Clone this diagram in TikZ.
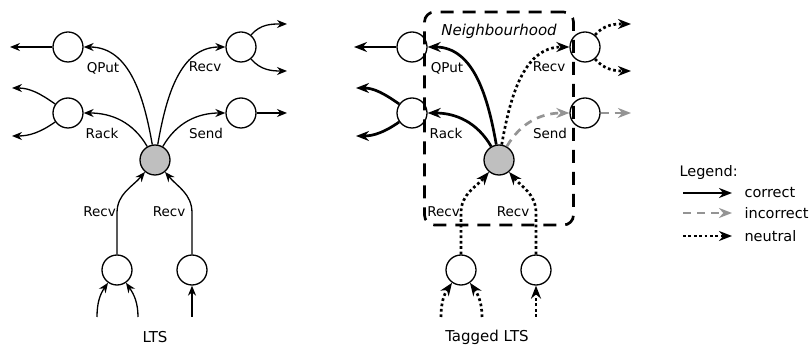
\documentclass[tikz,border=0pt]{standalone}
\usepackage{fontspec}
\setmainfont{DejaVu Sans}
\setsansfont{DejaVu Sans}
\usepackage{tikz}
\usetikzlibrary{automata, positioning, arrows.meta}
\usepackage{xcolor}

\begin{document}
\begin{tikzpicture}[x=1pt, y=1pt, on grid,
    font=\sffamily\fontsize{13.5}{16}\selectfont,
    every state/.style={draw, line width=1.3pt, minimum size=30pt, inner sep=0pt},
    >={Stealth[length=10pt, width=8pt]},
    plain/.style={line width=1.3pt},
    correct/.style={line width=2.7pt, >={Stealth[length=13pt, width=10pt]}},
    incorrect/.style={correct, draw=black!42, dash pattern=on 8pt off 6pt},
    neutral/.style={correct, dash pattern=on 2.7pt off 2.7pt},
    nbhd/.style={draw, line width=2.7pt, dash pattern=on 13pt off 9pt, rounded corners=10pt},
    big/.style={font=\sffamily\fontsize{15}{18}\selectfont}]
    \useasboundingbox (0,0) rectangle (811,-352);
    % Add the states (LTS)
        \node[state,
              fill=black!25
              ] (c0) at (155,-160) {};
        \node[state,
              above left=113pt and 87pt of c0
              ] (q0) {};
        \node[state,
              above left=47pt and 87pt of c0
              ] (r0) {};
        \node[state,
              above right=113pt and 86pt of c0
              ] (v0) {};
        \node[state,
              above right=47pt and 86pt of c0
              ] (s0) {};
        \node[state,
              below left=110pt and 38pt of c0
              ] (b0) {};
        \node[state,
              below right=110pt and 37pt of c0
              ] (b1) {};
    % Add the states (Tagged LTS)
        \node[state,
              right=344pt of c0,
              fill=black!25
              ] (c1) {};
        \node[state,
              above left=113pt and 87pt of c1
              ] (q1) {};
        \node[state,
              above left=47pt and 87pt of c1
              ] (r1) {};
        \node[state,
              above right=113pt and 86pt of c1
              ] (v1) {};
        \node[state,
              above right=47pt and 86pt of c1
              ] (s1) {};
        \node[state,
              below left=110pt and 38pt of c1
              ] (b2) {};
        \node[state,
              below right=110pt and 37pt of c1
              ] (b3) {};
    % loose ends
        \coordinate[left=58pt of q0] (q0x);
        \coordinate[above left=25pt and 56pt of r0] (r0x);
        \coordinate[below left=23pt and 56pt of r0] (r0y);
        \coordinate[above right=23pt and 46pt of v0] (v0x);
        \coordinate[below right=24pt and 46pt of v0] (v0y);
        \coordinate[right=46pt of s0] (s0x);
        \coordinate[below left=47pt and 20pt of b0] (b0x);
        \coordinate[below right=47pt and 21pt of b0] (b0y);
        \coordinate[below=47pt of b1] (b1x);
        \coordinate[above=57pt of b0] (b0t);
        \coordinate[above=57pt of b1] (b1t);
        \coordinate[left=58pt of q1] (q1x);
        \coordinate[above left=25pt and 56pt of r1] (r1x);
        \coordinate[below left=23pt and 56pt of r1] (r1y);
        \coordinate[above right=23pt and 46pt of v1] (v1x);
        \coordinate[below right=24pt and 46pt of v1] (v1y);
        \coordinate[right=46pt of s1] (s1x);
        \coordinate[below left=47pt and 20pt of b2] (b2x);
        \coordinate[below right=47pt and 21pt of b2] (b2y);
        \coordinate[below=47pt of b3] (b3x);
        \coordinate[above=57pt of b2] (b2t);
        \coordinate[above=57pt of b3] (b3t);
    % neighbourhood box
        \node[nbhd,
              above=41.5pt of c1,
              minimum width=149pt,
              minimum height=213pt
              ] (nb) {};
        \node[big, below=10pt of nb.north] (nbl) {\itshape Neighbourhood};
    % labels
        \node[below right=21pt and 35pt of q0] (lq0) {QPut};
        \node[below right=20pt and 34pt of r0] (lr0) {Rack};
        \node[below left=20pt and 36pt of v0] (lv0) {Recv};
        \node[below left=20pt and 35pt of s0] (ls0) {Send};
        \node[above left=58pt and 17.5pt of b0] (lb0) {Recv};
        \node[above left=58pt and 23pt of b1] (lb1) {Recv};
        \node[below right=21pt and 35pt of q1] (lq1) {QPut};
        \node[below right=20pt and 34pt of r1] (lr1) {Rack};
        \node[below left=20pt and 36pt of v1] (lv1) {Recv};
        \node[below left=20pt and 35pt of s1] (ls1) {Send};
        \node[above left=58pt and 17.5pt of b2] (lb2) {Recv};
        \node[above left=58pt and 23pt of b3] (lb3) {Recv};
        \node[big, below=177pt of c0] (cap0) {LTS};
        \node[big, below left=177pt and 12pt of c1] (cap1) {Tagged LTS};

       \path[plain, ->]
            (c0) edge[out=100, in=0] (q0)
            (c0) edge[out=120, in=0] (r0)
            (c0) edge[out=80, in=180] (v0)
            (c0) edge[out=60, in=180] (s0)
            (q0) edge[] (q0x)
            (r0) edge[out=145, in=0] (r0x)
            (r0) edge[out=215, in=0] (r0y)
            (v0) edge[out=50, in=180] (v0x)
            (v0) edge[out=-50, in=180] (v0y)
            (s0) edge[] (s0x)
            (b0x) edge[out=90, in=235] (b0)
            (b0y) edge[out=90, in=-55] (b0)
            (b1x) edge[] (b1)
            ;
       \draw[plain, ->] (b0) -- (b0t) to[out=90, in=230] (c0);
       \draw[plain, ->] (b1) -- (b1t) to[out=90, in=-50] (c0);

       \path[correct, ->]
            (c1) edge[out=100, in=0] (q1)
            (c1) edge[out=120, in=0] (r1)
            (q1) edge[] (q1x)
            (r1) edge[out=145, in=0] (r1x)
            (r1) edge[out=215, in=0] (r1y)
            ;
       \path[neutral, ->]
            (c1) edge[out=80, in=180] (v1)
            (v1) edge[out=50, in=180] (v1x)
            (v1) edge[out=-50, in=180] (v1y)
            (b2x) edge[out=90, in=235] (b2)
            (b2y) edge[out=90, in=-55] (b2)
            (b3x) edge[] (b3)
            ;
       \draw[neutral, ->] (b2) -- (b2t) to[out=90, in=230] (c1);
       \draw[neutral, ->] (b3) -- (b3t) to[out=90, in=-50] (c1);
       \path[incorrect, ->]
            (c1) edge[out=60, in=180] (s1)
            (s1) edge[] (s1x)
            ;

    % legend
        \node[anchor=west, font=\sffamily\fontsize{14.5}{17}\selectfont] (leg) at (676,-173) {Legend:};
        \coordinate (la1) at (683,-193);
        \coordinate (la2) at (732,-193);
        \coordinate (lb1x) at (683,-213);
        \coordinate (lb2x) at (732,-213);
        \coordinate (lc1) at (683,-236);
        \coordinate (lc2) at (732,-236);
        \draw[correct, ->] (la1) -- (la2);
        \draw[incorrect, ->] (lb1x) -- (lb2x);
        \draw[neutral, ->] (lc1) -- (lc2);
        \node[right=9pt of la2, anchor=west, font=\sffamily\fontsize{14.5}{17}\selectfont] (lta) {correct};
        \node[right=9pt of lb2x, anchor=west, font=\sffamily\fontsize{14.5}{17}\selectfont] (ltb) {incorrect};
        \node[right=9pt of lc2, anchor=west, font=\sffamily\fontsize{14.5}{17}\selectfont] (ltc) {neutral};
    \end{tikzpicture}
\end{document}
